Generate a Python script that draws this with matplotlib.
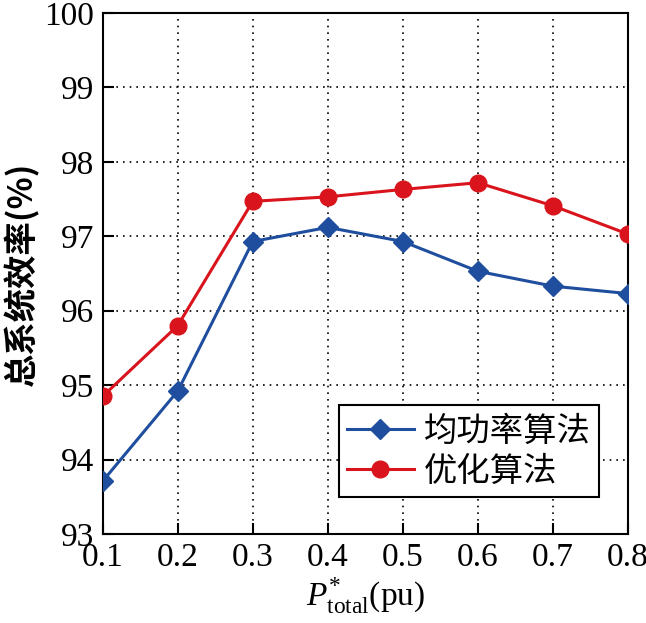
import matplotlib
matplotlib.use("Agg")
import matplotlib.pyplot as plt

x = [0.1, 0.2, 0.3, 0.4, 0.5, 0.6, 0.7, 0.8]
avg_power = [93.71, 94.92, 96.93, 97.12, 96.93, 96.53, 96.33, 96.23]
optimized = [94.85, 95.80, 97.47, 97.53, 97.63, 97.72, 97.41, 97.03]
xticks = [0.1, 0.2, 0.3, 0.4, 0.5, 0.6, 0.7, 0.8]
yticks = [93, 94, 95, 96, 97, 98, 99, 100]
labels = ["均功率算法", "优化算法"]

plt.rcParams['font.family'] = ['Liberation Serif', 'Noto Sans CJK SC', 'DejaVu Sans']
plt.rcParams['mathtext.fontset'] = 'custom'
plt.rcParams['mathtext.rm'] = 'Liberation Serif'
plt.rcParams['mathtext.it'] = 'Liberation Serif:italic'

fig = plt.figure(figsize=(6.46, 6.23), dpi=100)
ax = fig.add_axes([0.159, 0.143, 0.813, 0.836])

ax.plot(x, avg_power, color='#1f4e9e', lw=2.2, marker='D', ms=10, label=labels[0], zorder=3)
ax.plot(x, optimized, color='#d9141c', lw=2.2, marker='o', ms=12, label=labels[1], zorder=3)

ax.set_xlim(0.1, 0.8)
ax.set_ylim(93, 100)
ax.set_xticks(xticks)
ax.set_yticks(yticks)
ax.set_xticklabels([f"{v:.1f}" for v in xticks])
ax.set_yticklabels([str(v) for v in yticks])
ax.tick_params(direction='in', length=8, width=1.5, labelsize=24, pad=6)
ax.grid(True, linestyle=(0, (1, 3)), color='black', lw=1.2)
for s in ax.spines.values():
    s.set_linewidth(1.5)

ax.set_xlabel(r'$P^{*}_{\mathrm{total}}$(pu)', fontsize=24, labelpad=2)
ax.set_ylabel('总系统效率(%)', fontsize=24, family=['Noto Sans CJK SC', 'Liberation Serif'],
              fontweight='bold', labelpad=4)

leg = ax.legend(loc='lower left', bbox_to_anchor=(0.43, 0.052),
                prop={'family': ['Noto Sans CJK SC'], 'size': 24, 'weight': 'medium'},
                frameon=True, fancybox=False, edgecolor='black', handlelength=2.0,
                handletextpad=0.3, borderpad=0.25, labelspacing=0.15, borderaxespad=0.3)
leg.get_frame().set_linewidth(1.5)
leg.get_frame().set_alpha(1)

fig.savefig('out.png', dpi=100)
